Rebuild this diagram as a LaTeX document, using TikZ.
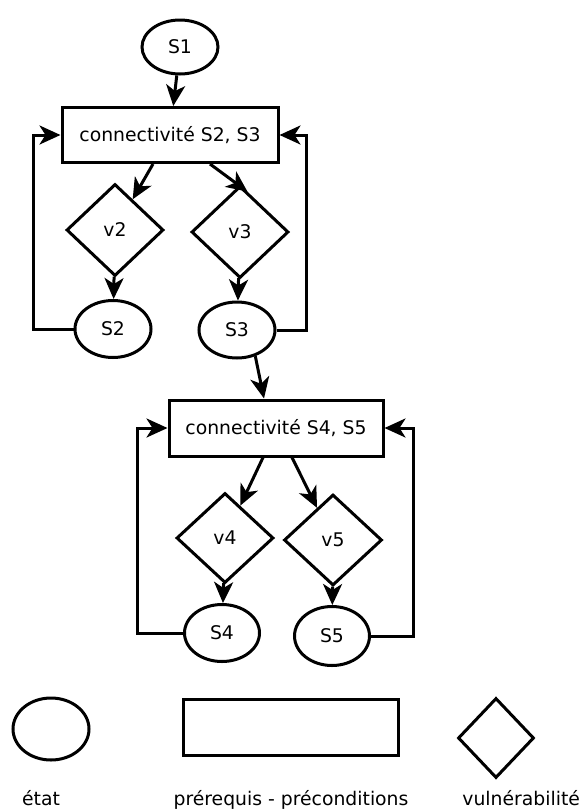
\documentclass[tikz,border=0pt]{standalone}
\usepackage{fontspec}
\setmainfont{DejaVu Sans}
\usetikzlibrary{shapes.geometric,arrows.meta,calc}
\tikzset{
  every node/.style={font=\fontsize{9.4}{11}\selectfont},
  state/.style={draw, line width=1.5pt, ellipse, inner sep=0pt},
  precond/.style={draw, line width=1.5pt, rectangle, inner sep=0pt},
  vuln/.style={draw, line width=1.5pt, diamond, inner sep=0pt},
  arr/.style={line width=1.5pt, -{Stealth[length=10.5pt,width=9.5pt,inset=3pt]}},
  loopline/.style={line width=1.5pt, -{Stealth[length=10.5pt,width=9.5pt,inset=3pt]}},
  legendtext/.style={anchor=base}
}
\begin{document}
\begin{tikzpicture}[x=0.5pt,y=-0.5pt]
\useasboundingbox (0,0) rectangle (580,810);
% nodes
\node[state, minimum width=38pt, minimum height=27pt] (S1) at (180,47) {S1};
\node[precond, minimum width=108pt, minimum height=27.5pt] (B1) at (170,135) {connectivité S2, S3};
\node[vuln, minimum width=48.5pt, minimum height=46pt] (v2) at (115,230) {v2};
\node[vuln, minimum width=48.5pt, minimum height=46pt] (v3) at (240,232) {v3};
\node[state, minimum width=38pt, minimum height=28.5pt] (S2) at (113,329) {S2};
\node[state, minimum width=38pt, minimum height=28pt] (S3) at (237,330) {S3};
\node[precond, minimum width=107pt, minimum height=28pt] (B2) at (276,428) {connectivité S4, S5};
\node[vuln, minimum width=48.5pt, minimum height=45pt] (v4) at (225,538) {v4};
\node[vuln, minimum width=49pt, minimum height=45.5pt] (v5) at (333,540) {v5};
\node[state, minimum width=37.5pt, minimum height=28.5pt] (S4) at (222,633) {S4};
\node[state, minimum width=37.5pt, minimum height=29.5pt] (S5) at (332,636) {S5};
% legend
\node[state, minimum width=38pt, minimum height=31pt] (Lstate) at (51,729) {};
\node[precond, minimum width=107.5pt, minimum height=28pt] (Lpre) at (290.5,727) {};
\node[vuln, minimum width=38pt, minimum height=40pt] (Lvuln) at (496,738) {};
\node[legendtext] (Tstate) at (41,805) {état};
\node[legendtext] (Tpre) at (291,805) {prérequis - préconditions};
\node[legendtext, anchor=base west, inner sep=0pt] (Tvuln) at (462,805) {vulnérabilité};
% connectors
\draw[arr] (S1) -- (B1);
\draw[arr] ([xshift=-8.5pt]B1.south) -- (v2);
\draw[arr] ([xshift=20pt]B1.south) -- ($(v3.north)!0.15!(v3.east)$);
\draw[arr] (v2) -- (S2);
\draw[arr] (v3) -- (S3);
\coordinate (L1) at (33,135);
\coordinate (R1) at (306,135);
\draw[loopline] (S2.west) -| (L1) -- (B1.west);
\draw[loopline] (S3.east) -| (R1) -- (B1.east);
\draw[arr] (S3.-55) -- ([xshift=-6pt]B2.north);
\draw[arr] ([xshift=-6.5pt]B2.south) -- (v4);
\draw[arr] ([xshift=8pt]B2.south) -- (v5);
\draw[arr] (v4) -- (S4);
\draw[arr] (v5) -- (S5);
\coordinate (L2) at (137,428);
\coordinate (R2) at (413,428);
\draw[loopline] (S4.west) -| (L2) -- (B2.west);
\draw[loopline] (S5.east) -| (R2) -- (B2.east);
\end{tikzpicture}
\end{document}
